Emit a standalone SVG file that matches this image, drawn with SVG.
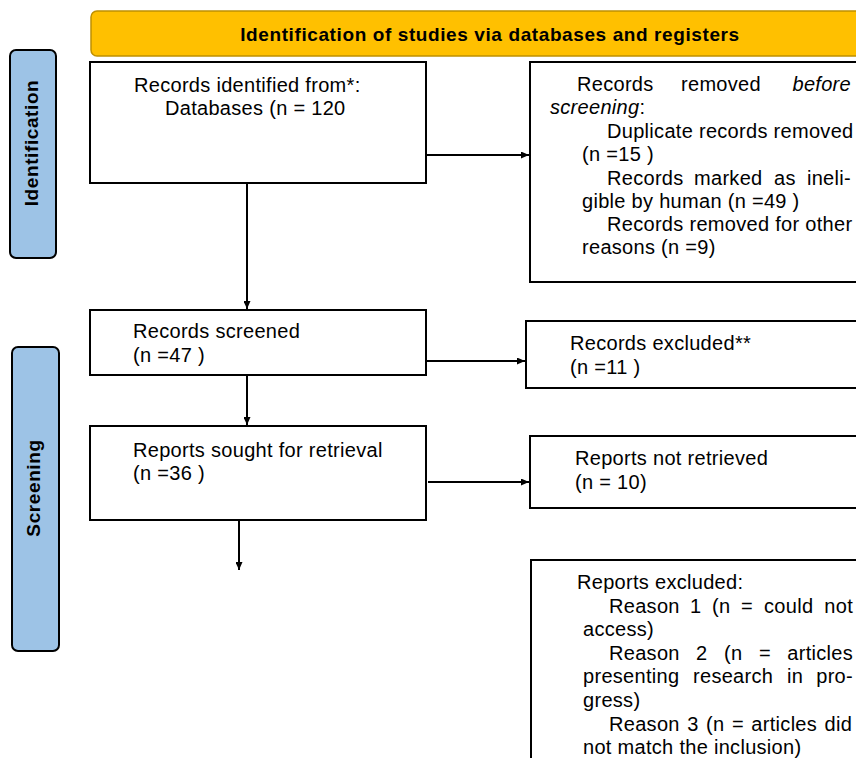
<svg xmlns="http://www.w3.org/2000/svg" width="856" height="758" viewBox="0 0 856 758">
<defs>
<marker id="ah" viewBox="0 0 10 10" refX="10" refY="5" markerWidth="8" markerHeight="7" orient="auto" markerUnits="userSpaceOnUse" preserveAspectRatio="none">
<path d="M0,0 L10,5 L0,10 z" fill="#000"/>
</marker>
<style>
.box{fill:#fff;stroke:#000;stroke-width:2}
.side{fill:#9DC3E6;stroke:#000;stroke-width:2}
.hdr{fill:#FFC000;stroke:#BF9000;stroke-width:1.5}
.t{font-family:"Liberation Sans",Arial,sans-serif;font-size:20px;letter-spacing:0.3px;fill:#000}
.b{font-family:"Liberation Sans",Arial,sans-serif;font-weight:bold;font-size:19px;letter-spacing:0.6px;fill:#000}
.c{stroke:#000;stroke-width:2;fill:none;marker-end:url(#ah)}
</style>
</defs>
<rect width="856" height="758" fill="#fff"/>
<g id="header">
<rect class="hdr" x="91" y="11" width="780" height="45" rx="6"/>
<text class="b" x="490" y="41" text-anchor="middle">Identification of studies via databases and registers</text>
</g>
<g id="side-identification">
<rect class="side" x="10" y="50" width="46" height="208" rx="6"/>
<text class="b" text-anchor="middle" transform="translate(38,143) rotate(-90)">Identification</text>
</g>
<g id="side-screening">
<rect class="side" x="12" y="347" width="47" height="304" rx="6"/>
<text class="b" text-anchor="middle" transform="translate(40,488) rotate(-90)">Screening</text>
</g>
<g id="records-identified">
<rect class="box" x="90" y="62" width="336" height="121"/>
<text class="t" x="134" y="92">Records identified from*:</text>
<text class="t" x="165" y="115">Databases (n = 120</text>
</g>
<g id="records-removed">
<rect class="box" x="530" y="62" width="340" height="220"/>
<text class="t" x="577" y="91">Records</text>
<text class="t" x="681" y="91">removed</text>
<text class="t" x="851" y="91" text-anchor="end" font-style="italic">before</text>
<text class="t" x="550" y="114"><tspan font-style="italic">screening</tspan>:</text>
<text class="t" x="607" y="138" letter-spacing="0.2">Duplicate records removed</text>
<text class="t" x="582" y="161">(n =15 )</text>
<text class="t" x="607" y="185">Records</text>
<text class="t" x="694" y="185">marked</text>
<text class="t" x="774" y="185">as</text>
<text class="t" x="851" y="185" text-anchor="end">ineli-</text>
<text class="t" x="582" y="208">gible by human (n =49 )</text>
<text class="t" x="607" y="231" letter-spacing="0.2">Records removed for other</text>
<text class="t" x="582" y="254">reasons (n =9)</text>
</g>
<g id="records-screened">
<rect class="box" x="90" y="310" width="336" height="65"/>
<text class="t" x="133" y="338">Records screened</text>
<text class="t" x="133" y="362">(n =47 )</text>
</g>
<g id="records-excluded">
<rect class="box" x="526" y="321" width="340" height="67"/>
<text class="t" x="570" y="350">Records excluded**</text>
<text class="t" x="570" y="374">(n =11 )</text>
</g>
<g id="reports-sought">
<rect class="box" x="90" y="426" width="336" height="94"/>
<text class="t" x="133" y="457">Reports sought for retrieval</text>
<text class="t" x="133" y="480">(n =36 )</text>
</g>
<g id="reports-not-retrieved">
<rect class="box" x="530" y="436" width="340" height="72"/>
<text class="t" x="575" y="465">Reports not retrieved</text>
<text class="t" x="575" y="489">(n = 10)</text>
</g>
<g id="reports-excluded">
<rect class="box" x="531" y="560" width="340" height="220"/>
<text class="t" x="577" y="589">Reports excluded:</text>
<text class="t" x="609" y="613">Reason</text>
<text class="t" x="690" y="613">1</text>
<text class="t" x="712" y="613">(n</text>
<text class="t" x="741" y="613">=</text>
<text class="t" x="764" y="613">could</text>
<text class="t" x="853" y="613" text-anchor="end">not</text>
<text class="t" x="583" y="636">access)</text>
<text class="t" x="609" y="660">Reason</text>
<text class="t" x="696" y="660">2</text>
<text class="t" x="724" y="660">(n</text>
<text class="t" x="759" y="660">=</text>
<text class="t" x="853" y="660" text-anchor="end">articles</text>
<text class="t" x="583" y="683">presenting</text>
<text class="t" x="693" y="683">research</text>
<text class="t" x="787" y="683">in</text>
<text class="t" x="853" y="683" text-anchor="end">pro-</text>
<text class="t" x="583" y="707">gress)</text>
<text class="t" x="609" y="731" word-spacing="1.6">Reason 3 (n = articles did</text>
<text class="t" x="583" y="754">not match the inclusion)</text>
</g>
<g id="connectors">
<line class="c" x1="426" y1="155" x2="529" y2="155"/>
<line class="c" x1="247" y1="183" x2="247" y2="309"/>
<line class="c" x1="427" y1="361" x2="525" y2="361"/>
<line class="c" x1="247" y1="375" x2="247" y2="425"/>
<line class="c" x1="428" y1="482" x2="529" y2="482"/>
<line class="c" x1="239" y1="520" x2="239" y2="570"/>
</g>
</svg>
